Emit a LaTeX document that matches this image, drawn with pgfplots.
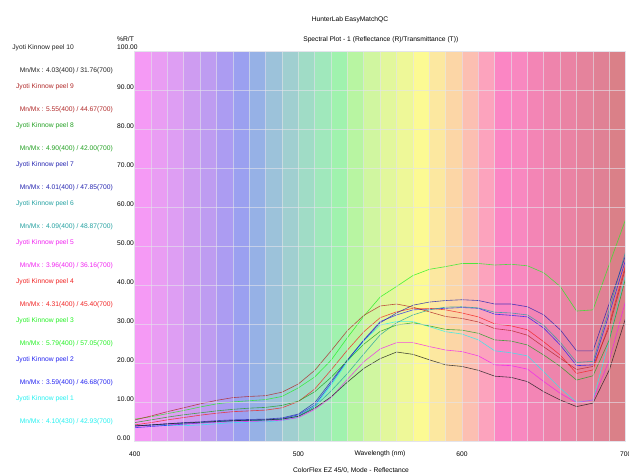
\documentclass[border=0pt]{standalone}
\usepackage{fontspec}
\setmainfont{Liberation Sans}
\usepackage{pgfplots}
\pgfplotsset{compat=1.18}
\usepackage{pgfplotstable}

\definecolor{band0}{HTML}{F59AF5}
\definecolor{band1}{HTML}{E99DF3}
\definecolor{band2}{HTML}{DE9EF3}
\definecolor{band3}{HTML}{CE9CF1}
\definecolor{band4}{HTML}{BE9CF1}
\definecolor{band5}{HTML}{AC9CF2}
\definecolor{band6}{HTML}{9BA0F0}
\definecolor{band7}{HTML}{96B1E6}
\definecolor{band8}{HTML}{9CC2DA}
\definecolor{band9}{HTML}{A0CFD0}
\definecolor{band10}{HTML}{A0DCC6}
\definecolor{band11}{HTML}{A0E8BC}
\definecolor{band12}{HTML}{A0F2AE}
\definecolor{band13}{HTML}{B8F5A2}
\definecolor{band14}{HTML}{D0F6A0}
\definecolor{band15}{HTML}{E2F79C}
\definecolor{band16}{HTML}{EEF898}
\definecolor{band17}{HTML}{FCFA93}
\definecolor{band18}{HTML}{FCE8A0}
\definecolor{band19}{HTML}{FCD6A6}
\definecolor{band20}{HTML}{FCBFB2}
\definecolor{band21}{HTML}{FCA3BD}
\definecolor{band22}{HTML}{FB86C4}
\definecolor{band23}{HTML}{F888C0}
\definecolor{band24}{HTML}{F385B5}
\definecolor{band25}{HTML}{EE84AC}
\definecolor{band26}{HTML}{EA83A4}
\definecolor{band27}{HTML}{E5839C}
\definecolor{band28}{HTML}{E08195}
\definecolor{band29}{HTML}{DA8088}

\definecolor{c10}{HTML}{202020}
\definecolor{c9}{HTML}{B02828}
\definecolor{c8}{HTML}{22A022}
\definecolor{c7}{HTML}{2424B0}
\definecolor{c6}{HTML}{22A0A0}
\definecolor{c5}{HTML}{F022F0}
\definecolor{c4}{HTML}{F02222}
\definecolor{c3}{HTML}{22F022}
\definecolor{c2}{HTML}{2222F0}
\definecolor{c1}{HTML}{22F0F0}
\definecolor{gridc}{HTML}{E4E4EC}

\pgfplotstableread{
nm  p1    p2    p3    p4    p5    p6    p7    p8    p9    p10
400 4.30  3.59  5.79  4.31  3.96  4.09  4.01  4.90  5.55  4.03
410 4.20  3.90  6.40  4.90  4.20  4.30  4.30  5.60  6.60  4.30
420 4.15  4.20  7.20  5.60  4.40  4.50  4.60  6.30  7.70  4.60
430 4.10  4.50  8.00  6.20  4.60  4.70  4.90  6.90  8.70  4.80
440 4.30  4.80  8.90  6.80  4.80  4.90  5.10  7.40  9.70  5.00
450 4.60  5.10  9.70  7.30  5.00  5.10  5.40  7.90  10.6  5.20
460 4.90  5.40  10.2  7.70  5.10  5.30  5.60  8.30  11.3  5.40
470 5.00  5.50  10.5  7.90  5.20  5.40  5.70  8.60  11.6  5.50
480 5.10  5.60  10.8  8.10  5.30  5.50  5.80  8.80  11.8  5.60
490 5.40  5.90  11.6  8.70  5.50  5.70  6.10  9.30  12.7  5.80
500 6.30  6.90  13.8  10.3  6.20  6.60  7.10  10.4  14.8  6.50
510 9.00  9.40  16.6  13.5  8.30  9.00  10.0  12.8  18.3  8.60
520 14.5  15.0  20.9  18.4  11.3  13.0  15.5  16.5  23.3  11.5
530 20.5  20.9  26.7  23.5  16.0  17.5  21.0  20.8  28.5  15.3
540 25.8  26.1  32.2  28.2  20.5  22.5  26.0  25.0  32.4  18.8
550 29.9  30.8  37.1  31.8  23.8  27.4  30.5  28.3  34.8  21.3
560 30.8  32.5  39.8  33.3  25.4  30.5  33.0  29.9  35.3  23.0
570 30.8  33.8  42.6  34.2  25.4  32.5  35.0  30.5  34.5  22.4
580 29.5  34.0  44.2  34.2  24.4  33.8  35.8  29.7  33.3  21.0
590 28.2  34.2  44.9  33.8  23.5  34.5  36.2  28.8  32.1  19.7
600 27.6  34.4  45.7  33.0  23.1  34.6  36.4  28.6  31.6  19.3
610 26.1  34.2  45.7  32.0  22.0  34.3  36.2  27.8  30.7  18.3
620 23.3  32.7  45.3  30.2  19.7  33.2  35.3  26.1  29.0  16.8
630 22.8  32.4  45.5  29.7  19.5  33.0  35.3  25.8  28.5  16.5
640 22.0  32.0  45.1  28.7  18.6  32.5  34.6  24.8  27.3  15.4
650 17.9  29.1  43.3  25.6  15.4  29.8  32.5  22.2  24.3  12.8
660 13.7  24.8  39.8  22.2  12.4  25.5  28.7  19.3  21.4  10.7
670 10.1  19.5  33.5  17.5  10.0  20.3  23.3  15.8  18.5  9.00
680 10.7  19.7  33.8  18.4  10.7  20.6  23.3  16.9  19.3  9.90
690 26.1  32.9  45.5  30.3  20.9  34.0  35.5  26.1  29.5  18.4
700 42.93 46.68 57.05 45.40 36.16 48.87 47.85 42.00 44.67 31.76
}\spec

\begin{document}
\fontsize{6.7}{8}\selectfont
\begin{tikzpicture}
\begin{axis}[
  at={(134.7pt,34.3pt)}, anchor=south west,
  width=491pt, height=390pt, scale only axis,
  axis on top,
  xmin=400, xmax=700, ymin=0, ymax=100,
  xtick={400,500,600,700},
  minor x tick num=9,
  ytick={0,10,...,100},
  grid=both,
  major grid style={draw=gridc, opacity=0.6, line width=0.8pt},
  minor grid style={draw=gridc, opacity=0.6, line width=0.8pt},
  major tick length=0pt, minor tick length=0pt,
  axis line style={draw=gridc, line width=0.8pt},
  /pgf/number format/assume math mode=true,
  ticklabel style={font=\fontsize{6.7}{8}\selectfont},
  y tick label style={/pgf/number format/fixed, /pgf/number format/zerofill, /pgf/number format/precision=2},
  yticklabel style={anchor=west, inner sep=0pt, xshift=-17.7pt, yshift=4pt},
  xticklabel style={anchor=center, inner sep=0pt, yshift=-12.3pt},
  x tick label style={/pgf/number format/1000 sep={}},
  clip=false,
]
\pgfplotsinvokeforeach{0,...,29}{
  \edef\temp{\noexpand\addplot[draw=none, fill=band#1, forget plot] coordinates {(\the\numexpr400+10*#1\relax,0) (\the\numexpr410+10*#1\relax,0) (\the\numexpr410+10*#1\relax,100) (\the\numexpr400+10*#1\relax,100)} -- cycle;}
  \temp
}
\addplot[c1, line width=0.6pt, opacity=0.8] table[x=nm, y=p1] {\spec};
\addplot[c2, line width=0.6pt, opacity=0.8] table[x=nm, y=p2] {\spec};
\addplot[c3, line width=0.6pt, opacity=0.8] table[x=nm, y=p3] {\spec};
\addplot[c4, line width=0.6pt, opacity=0.8] table[x=nm, y=p4] {\spec};
\addplot[c5, line width=0.6pt, opacity=0.8] table[x=nm, y=p5] {\spec};
\addplot[c6, line width=0.6pt, opacity=0.8] table[x=nm, y=p6] {\spec};
\addplot[c7, line width=0.6pt, opacity=0.8] table[x=nm, y=p7] {\spec};
\addplot[c8, line width=0.6pt, opacity=0.8] table[x=nm, y=p8] {\spec};
\addplot[c9, line width=0.6pt, opacity=0.8] table[x=nm, y=p9] {\spec};
\addplot[c10, line width=0.6pt, opacity=0.8] table[x=nm, y=p10] {\spec};
\end{axis}

\begin{scope}[x=1pt,y=1pt]
\node[inner sep=0pt] at (350,456) {HunterLab EasyMatchQC};
\node[inner sep=0pt] at (380.8,436) {Spectral Plot - 1 (Reflectance (R)/Transmittance (T))};
\node[inner sep=0pt, anchor=west] at (117,437) {\%R/T};
\node[inner sep=0pt] at (380,22) {Wavelength (nm)};
\node[inner sep=0pt] at (351,5) {ColorFlex EZ 45/0, Mode - Reflectance};

\node[inner sep=0pt, anchor=east, text=c10] at (74,428.3) {Jyoti Kinnow peel 10};
\node[inner sep=0pt, anchor=east, text=c10] at (113,405) {Mn/Mx : 4.03(400) / 31.76(700)};
\node[inner sep=0pt, anchor=east, text=c9] at (74,389.3) {Jyoti Kinnow peel 9};
\node[inner sep=0pt, anchor=east, text=c9] at (113,366) {Mn/Mx : 5.55(400) / 44.67(700)};
\node[inner sep=0pt, anchor=east, text=c8] at (74,350.3) {Jyoti Kinnow peel 8};
\node[inner sep=0pt, anchor=east, text=c8] at (113,327) {Mn/Mx : 4.90(400) / 42.00(700)};
\node[inner sep=0pt, anchor=east, text=c7] at (74,311.3) {Jyoti Kinnow peel 7};
\node[inner sep=0pt, anchor=east, text=c7] at (113,288) {Mn/Mx : 4.01(400) / 47.85(700)};
\node[inner sep=0pt, anchor=east, text=c6] at (74,272.3) {Jyoti Kinnow peel 6};
\node[inner sep=0pt, anchor=east, text=c6] at (113,249) {Mn/Mx : 4.09(400) / 48.87(700)};
\node[inner sep=0pt, anchor=east, text=c5] at (74,233.3) {Jyoti Kinnow peel 5};
\node[inner sep=0pt, anchor=east, text=c5] at (113,210) {Mn/Mx : 3.96(400) / 36.16(700)};
\node[inner sep=0pt, anchor=east, text=c4] at (74,194.3) {Jyoti Kinnow peel 4};
\node[inner sep=0pt, anchor=east, text=c4] at (113,171) {Mn/Mx : 4.31(400) / 45.40(700)};
\node[inner sep=0pt, anchor=east, text=c3] at (74,155.3) {Jyoti Kinnow peel 3};
\node[inner sep=0pt, anchor=east, text=c3] at (113,132) {Mn/Mx : 5.79(400) / 57.05(700)};
\node[inner sep=0pt, anchor=east, text=c2] at (74,116.3) {Jyoti Kinnow peel 2};
\node[inner sep=0pt, anchor=east, text=c2] at (113,93) {Mn/Mx : 3.59(400) / 46.68(700)};
\node[inner sep=0pt, anchor=east, text=c1] at (74,77.3) {Jyoti Kinnow peel 1};
\node[inner sep=0pt, anchor=east, text=c1] at (113,54) {Mn/Mx : 4.10(430) / 42.93(700)};
\pgfresetboundingbox
\path[use as bounding box] (0,0) rectangle (629,476);
\end{scope}
\end{tikzpicture}
\end{document}
